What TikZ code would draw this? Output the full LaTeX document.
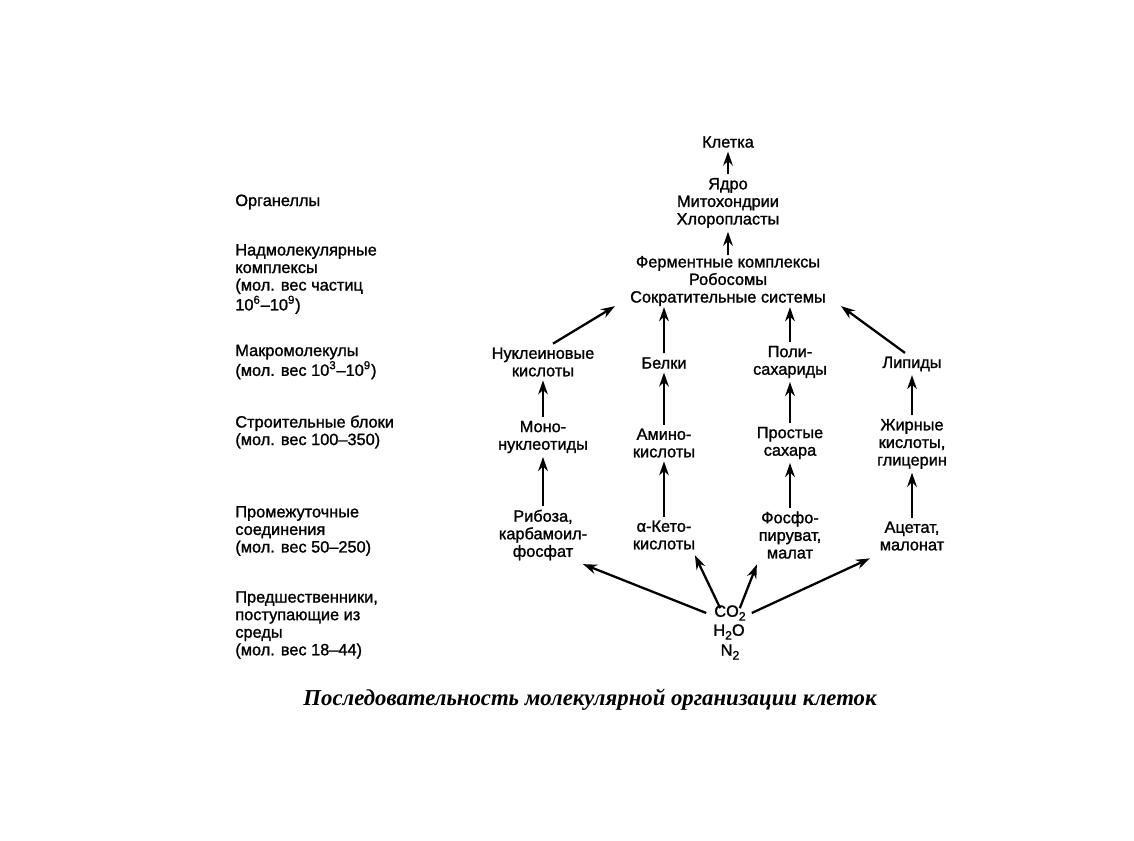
\documentclass[tikz,border=0pt]{standalone}
\usepackage{fontspec}
\setmainfont{Liberation Sans}[FakeBold=1.3]
\newfontfamily\captionfont{Liberation Serif}
\usetikzlibrary{arrows.meta,calc}

\newcommand{\lowsub}[1]{\raisebox{-0.45ex}{\fontsize{7}{7}\selectfont #1}}

\begin{document}
\begin{tikzpicture}[
        x=0.02cm, y=-0.02cm,
        font=\fontsize{9.3}{10}\selectfont,
        level/.style={anchor=west, align=left, inner sep=0pt},
        item/.style={align=center, inner sep=2pt},
        arrow/.style={line width=1.3pt, -{Stealth[length=8pt,width=5.5pt]}}
    ]
        \useasboundingbox (0,0) rectangle (1134,841);

        % levels
        \node[level] (organelles) at (235,202) {Органеллы};
        \node[level] (supra) at (235,279) {Надмолекулярные\\комплексы\\(мол. вес частиц\\10\textsuperscript{6}--10\textsuperscript{9})};
        \node[level] (macro) at (235,362) {Макромолекулы\\(мол. вес 10\textsuperscript{3}--10\textsuperscript{9})};
        \node[level] (blocks) at (235,432) {Строительные блоки\\(мол. вес 100--350)};
        \node[level] (interm) at (235,531) {Промежуточные\\соединения\\(мол. вес 50--250)};
        \node[level] (precur) at (235,625) {Предшественники,\\поступающие из\\среды\\(мол. вес 18--44)};

        % scheme
        \node[item] (cell) at (728,142) {Клетка};
        \node[item] (orgs) at (728,203) {Ядро\\Митохондрии\\Хлоропласты};
        \node[item, inner sep=0.5pt] (ferm) at (728,281) {Ферментные комплексы\\Робосомы\\Сократительные системы};

        \node[item] (nucl) at (543,362) {Нуклеиновые\\кислоты};
        \node[item] (prot) at (664,363) {Белки};
        \node[item] (poly) at (790,362) {Поли-\\сахариды};
        \node[item] (lip) at (912,364) {Липиды};

        \node[item] (mono) at (543,437) {Моно-\\нуклеотиды};
        \node[item] (amino) at (664,443) {Амино-\\кислоты};
        \node[item] (sugar) at (790,443) {Простые\\сахара};
        \node[item] (fatty) at (912,444) {Жирные\\кислоты,\\глицерин};

        \node[item] (ribose) at (543,535) {Рибоза,\\карбамоил-\\фосфат};
        \node[item] (keto) at (664,535) {α-Кето-\\кислоты};
        \node[item] (phos) at (790,535) {Фосфо-\\пируват,\\малат};
        \node[item] (acet) at (912,536) {Ацетат,\\малонат};

        \node[item, inner sep=1pt] (co2) at (730,613) {CO\lowsub{2}};
        \node[item, inner sep=1pt] (h2o) at (729,632) {H\lowsub{2}O};
        \node[item, inner sep=1pt] (n2) at (730,652) {N\lowsub{2}};

        \node[font=\captionfont\bfseries\itshape\fontsize{12.95}{14}\selectfont] (caption) at (590,700) {Последовательность молекулярной организации клеток};

        \draw[arrow] (orgs) -- (cell);
        \draw[arrow] (ferm) -- (orgs);

        \draw[arrow] ($(nucl.north)+(10,0)$) -- ($(ferm.south west)+(-14,-1)$);
        \draw[arrow] (prot) -- (prot |- ferm.south);
        \draw[arrow] (poly) -- (poly |- ferm.south);
        \draw[arrow] ($(lip.north)+(-7,0)$) -- ($(ferm.south east)+(14,-1)$);

        \draw[arrow] (mono) -- (nucl);
        \draw[arrow] (amino) -- (prot);
        \draw[arrow] (sugar) -- (poly);
        \draw[arrow] (fatty) -- (lip);

        \draw[arrow] (ribose) -- (mono);
        \draw[arrow] (keto) -- (amino);
        \draw[arrow] (phos) -- (sugar);
        \draw[arrow] (acet) -- (fatty);

        \draw[arrow] ($(co2.west)+(-6,0)$) -- ($(ribose.south east)+(-8,0)$);
        \draw[arrow] ($(co2.north west)+(8,5)$) -- ($(keto.south east)+(-4,2)$);
        \draw[arrow] ($(co2.north east)+(-8,5)$) -- ($(phos.south west)+(2,2)$);
        \draw[arrow] ($(co2.east)+(4,0)$) -- ($(acet.south west)+(-6,4)$);
    \end{tikzpicture}
\end{document}
